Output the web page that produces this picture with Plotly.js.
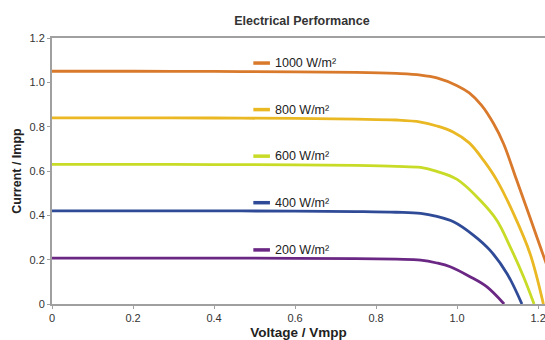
<!DOCTYPE html>
<html>
<head>
<meta charset="utf-8">
<script src="https://cdn.plot.ly/plotly-3.0.1.min.js"></script>
<style>
html,body{margin:0;padding:0;background:#fff;}
#chart{width:545px;height:340px;}
</style>
</head>
<body>
<div id="chart"></div>
<script>
// Series labels
const seriesNames = ["1000 W/m²", "800 W/m²", "600 W/m²", "400 W/m²", "200 W/m²"];
const seriesColors = ["#d9792b", "#e9b823", "#c8db26", "#2f4a96", "#6a2784"];

// Voltage / Vmpp values and Current / Impp values for each irradiance
const v1000 = [0, 0.2, 0.4, 0.6, 0.75, 0.85, 0.91, 0.95, 1.0, 1.03, 1.06, 1.09, 1.115, 1.147, 1.18, 1.217, 1.25];
const i1000 = [1.05, 1.05, 1.049, 1.047, 1.045, 1.04, 1.033, 1.02, 0.985, 0.952, 0.897, 0.814, 0.722, 0.559, 0.39, 0.198, 0.028];

const v800 = [0, 0.2, 0.4, 0.6, 0.75, 0.85, 0.91, 0.95, 0.99, 1.03, 1.065, 1.098, 1.139, 1.18, 1.213];
const i800 = [0.84, 0.84, 0.839, 0.837, 0.834, 0.83, 0.821, 0.803, 0.776, 0.727, 0.649, 0.559, 0.409, 0.228, 0];

const v600 = [0, 0.2, 0.4, 0.6, 0.75, 0.85, 0.91, 0.95, 1.0, 1.057, 1.098, 1.131, 1.164, 1.19];
const i600 = [0.63, 0.63, 0.629, 0.628, 0.625, 0.621, 0.616, 0.598, 0.562, 0.468, 0.378, 0.258, 0.123, 0];

const v400 = [0, 0.2, 0.4, 0.6, 0.75, 0.85, 0.91, 0.95, 0.991, 1.04, 1.081, 1.123, 1.16];
const i400 = [0.42, 0.42, 0.42, 0.419, 0.417, 0.414, 0.409, 0.395, 0.371, 0.311, 0.243, 0.138, 0];

const v200 = [0, 0.2, 0.4, 0.6, 0.75, 0.85, 0.91, 0.95, 0.983, 1.032, 1.073, 1.116];
const i200 = [0.207, 0.207, 0.207, 0.206, 0.205, 0.202, 0.198, 0.185, 0.168, 0.123, 0.078, 0];

// Axis ticks
const xTickVals = [0, 0.2, 0.4, 0.6, 0.8, 1.0, 1.2];
const xTickText = ["0", "0.2", "0.4", "0.6", "0.8", "1.0", "1.2"];
const yTickVals = [0, 0.2, 0.4, 0.6, 0.8, 1.0, 1.2];
const yTickText = ["0", "0.2", "0.4", "0.6", "0.8", "1.0", "1.2"];

const xs = [v1000, v800, v600, v400, v200];
const ys = [i1000, i800, i600, i400, i200];

const FONT = "Liberation Sans, Arial, sans-serif";

const traces = xs.map((x, k) => ({
  type: "scatter",
  mode: "lines",
  x: x,
  y: ys[k],
  name: seriesNames[k],
  line: {color: seriesColors[k], width: 2.8, shape: "spline", smoothing: 1},
  hoverinfo: "skip"
}));

// In-plot legend: short segment + label just above each curve's plateau
const legX0 = 0.497, legX1 = 0.538, legTextX = 0.545, legDy = 0.037;
const shapes = [];
const annotations = [];
ys.forEach((y, k) => {
  const ly = y[0] + legDy;
  shapes.push({type: "line", xref: "x", yref: "y", x0: legX0, x1: legX1, y0: ly, y1: ly,
               line: {color: seriesColors[k], width: 3.5}});
  annotations.push({xref: "x", yref: "y", x: legTextX, y: ly, text: seriesNames[k],
                    showarrow: false, xanchor: "left", yanchor: "middle",
                    font: {family: FONT, size: 12.5, color: "#222"}});
});

const layout = {
  width: 545,
  height: 340,
  margin: {l: 52, r: 0, t: 38, b: 36, pad: 0},
  paper_bgcolor: "#fff",
  plot_bgcolor: "#fff",
  showlegend: false,
  title: {
    text: "<b>Electrical Performance</b>",
    font: {family: FONT, size: 12.5, color: "#333"},
    x: 0.554, xref: "container", xanchor: "center",
    y: 0.94, yref: "container", yanchor: "middle"
  },
  xaxis: {
    range: [0, 1.217],
    tickvals: xTickVals,
    ticktext: xTickText,
    ticks: "outside",
    ticklen: 3,
    tickcolor: "#a0a0a0",
    ticklabeloverflow: "allow",
    showgrid: false,
    zeroline: false,
    showline: true,
    linecolor: "#a0a0a0",
    linewidth: 2,
    mirror: true,
    tickfont: {family: FONT, size: 11, color: "#333"},
    title: {text: "<b>Voltage / Vmpp</b>", standoff: 6,
            font: {family: FONT, size: 13.5, color: "#222"}},
    fixedrange: true
  },
  yaxis: {
    range: [0, 1.2],
    tickvals: yTickVals,
    ticktext: yTickText,
    ticks: "outside",
    ticklen: 3,
    tickcolor: "#a0a0a0",
    showgrid: false,
    zeroline: false,
    showline: true,
    linecolor: "#a0a0a0",
    linewidth: 2,
    tickfont: {family: FONT, size: 11, color: "#333"},
    title: {text: "<b>Current / Impp</b>", standoff: 5,
            font: {family: FONT, size: 12.5, color: "#222"}},
    fixedrange: true
  },
  shapes: shapes,
  annotations: annotations
};

Plotly.newPlot("chart", traces, layout, {displayModeBar: false, staticPlot: true});
</script>
</body>
</html>
